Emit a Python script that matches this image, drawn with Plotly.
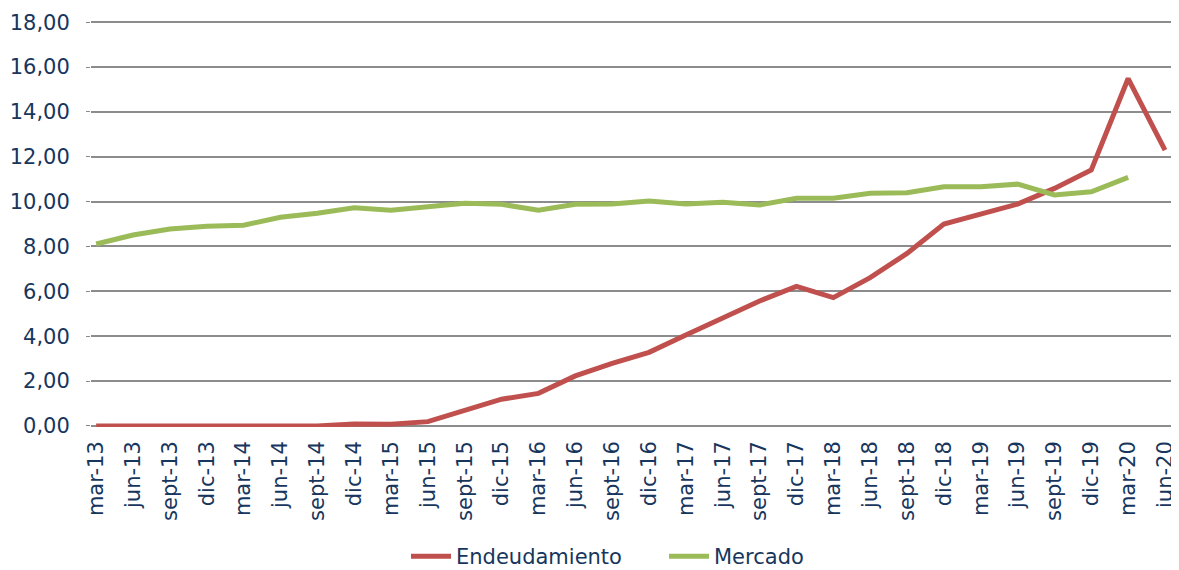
import plotly.graph_objects as go

categories = ["mar-13", "jun-13", "sept-13", "dic-13", "mar-14", "jun-14", "sept-14", "dic-14",
              "mar-15", "jun-15", "sept-15", "dic-15", "mar-16", "jun-16", "sept-16", "dic-16",
              "mar-17", "jun-17", "sept-17", "dic-17", "mar-18", "jun-18", "sept-18", "dic-18",
              "mar-19", "jun-19", "sept-19", "dic-19", "mar-20", "jun-20"]

endeudamiento = [0.0, 0.0, 0.0, 0.0, 0.0, 0.0, 0.0, 0.08,
                 0.07, 0.19, 0.70, 1.19, 1.45, 2.23, 2.79, 3.28,
                 4.05, 4.80, 5.57, 6.22, 5.72, 6.61, 7.69, 9.00,
                 9.45, 9.89, 10.59, 11.41, 15.49, 12.30]

mercado = [8.11, 8.51, 8.78, 8.90, 8.95, 9.30, 9.48, 9.73,
           9.62, 9.80, 9.93, 9.88, 9.62, 9.88, 9.90, 10.03,
           9.90, 9.97, 9.85, 10.15, 10.15, 10.37, 10.40, 10.66,
           10.66, 10.78, 10.30, 10.44, 11.08]

text_color = "#17365D"
font_family = "DejaVu Sans, Verdana, sans-serif"
fsize = 21

fig = go.Figure()
fig.add_trace(go.Scatter(x=categories, y=endeudamiento, mode="lines", name="Endeudamiento",
                         line=dict(color="#C0504D", width=5)))
fig.add_trace(go.Scatter(x=categories[:len(mercado)], y=mercado, mode="lines", name="Mercado",
                         line=dict(color="#9BBB59", width=5)))

# page body has an 8px default margin, so the figure is sized 1171x562
fig.update_layout(
    width=1171, height=562,
    margin=dict(l=83, r=7, t=12, b=143),
    plot_bgcolor="white", paper_bgcolor="white",
    separators=",.",
    font=dict(family=font_family, size=fsize, color=text_color),
    showlegend=True,
    legend=dict(orientation="h", x=398 / 1171, xanchor="left", xref="container",
                y=0.024, yanchor="middle", yref="container",
                entrywidth=203, entrywidthmode="pixels",
                font=dict(size=fsize, color=text_color), itemwidth=40),
    xaxis=dict(type="category", range=[-0.14, 29.19], tickangle=-90, automargin=False,
               showgrid=False, showline=False, zeroline=False, ticks="",
               ticklabelstandoff=9,
               tickfont=dict(size=fsize, color=text_color)),
    yaxis=dict(range=[-0.05, 18.1], tickvals=[0, 2, 4, 6, 8, 10, 12, 14, 16, 18],
               tickformat=".2f", showgrid=True, automargin=False,
               gridcolor="#8C8C8C", gridwidth=1.5, zeroline=True, zerolinecolor="#8C8C8C",
               zerolinewidth=1.5, showline=False, ticks="outside", ticklen=4, tickcolor="#8C8C8C",
               ticklabelstandoff=12,
               tickfont=dict(size=fsize, color=text_color)),
)

fig.write_html("out.html")
